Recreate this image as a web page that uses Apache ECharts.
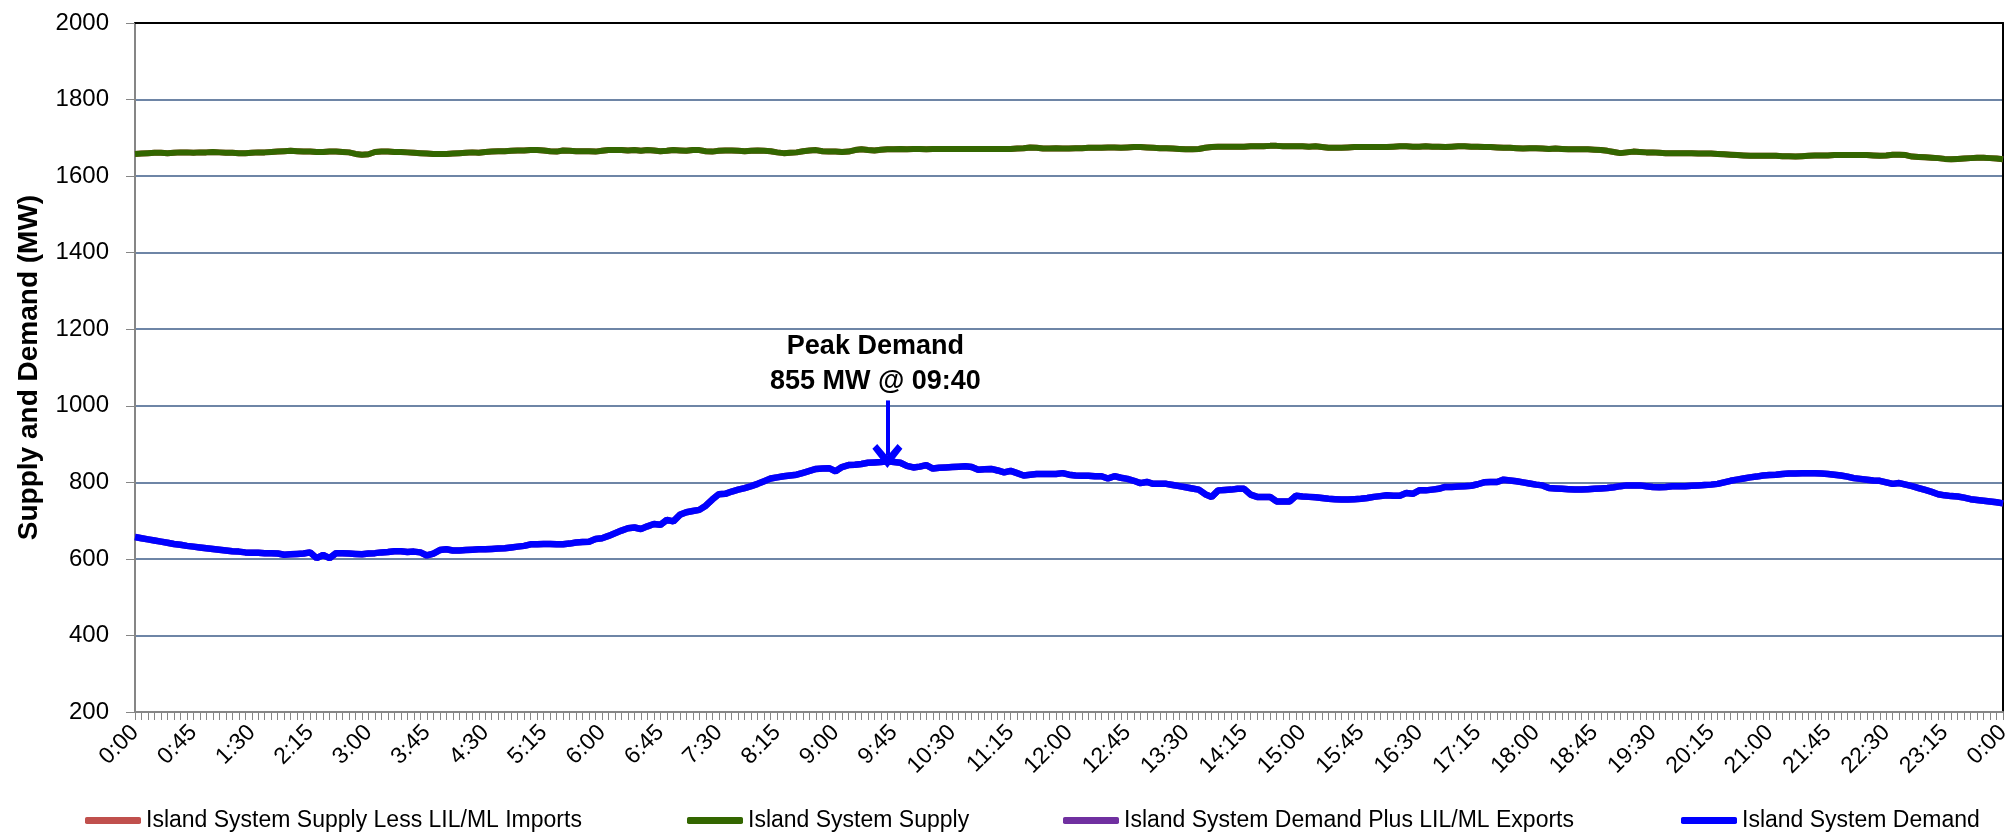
<!DOCTYPE html>
<html>
<head>
<meta charset="utf-8">
<script src="https://cdn.jsdelivr.net/npm/echarts@6/dist/echarts.min.js"></script>
<style>
html,body{margin:0;padding:0;background:#fff;}
#chart{width:2014px;height:839px;}
</style>
</head>
<body>
<div id="chart"></div>
<script>
// ---- Data (5-minute intervals, 0:00 to 0:00 next day) ----
const times = [];
for (let i = 0; i <= 288; i++) {
  const m = (i * 5) % 1440;
  times.push(Math.floor(m / 60) + ':' + String(m % 60).padStart(2, '0'));
}

const seriesNames = [
  'Island System Supply Less LIL/ML Imports',
  'Island System Supply',
  'Island System Demand Plus LIL/ML Exports',
  'Island System Demand'
];

const supply = [
  1658,1659,1660,1661,1661,1660,1661,1662,1662,1661,1662,1662,
  1663,1662,1661,1661,1660,1660,1661,1662,1662,1663,1664,1665,
  1666,1665,1664,1664,1663,1663,1664,1664,1663,1662,1658,1656,
  1657,1663,1664,1664,1663,1663,1662,1661,1660,1659,1658,1658,
  1658,1659,1660,1661,1662,1661,1663,1664,1665,1665,1666,1667,
  1667,1668,1668,1667,1665,1664,1667,1666,1665,1665,1665,1664,
  1666,1668,1668,1668,1667,1668,1666,1668,1667,1665,1666,1668,
  1667,1666,1668,1668,1665,1664,1666,1667,1667,1666,1665,1666,
  1667,1666,1665,1662,1660,1661,1662,1665,1667,1668,1665,1664,
  1664,1663,1664,1668,1670,1668,1667,1669,1670,1670,1671,1670,
  1671,1671,1670,1671,1671,1671,1671,1671,1671,1671,1671,1671,
  1671,1671,1671,1671,1672,1673,1675,1674,1672,1672,1673,1672,
  1672,1673,1673,1674,1674,1674,1675,1675,1674,1675,1676,1676,
  1675,1674,1673,1673,1672,1671,1670,1670,1671,1674,1676,1677,
  1677,1677,1677,1677,1678,1678,1678,1679,1679,1678,1678,1678,
  1678,1677,1678,1676,1674,1674,1674,1675,1676,1676,1676,1676,
  1676,1676,1677,1678,1678,1677,1677,1678,1677,1677,1676,1677,
  1678,1678,1677,1677,1676,1676,1675,1674,1674,1673,1672,1673,
  1673,1672,1671,1672,1671,1670,1670,1670,1670,1669,1668,1666,
  1663,1660,1662,1664,1663,1662,1662,1661,1660,1660,1660,1660,
  1660,1659,1659,1659,1658,1657,1656,1655,1654,1653,1653,1653,
  1653,1653,1652,1652,1651,1652,1653,1654,1654,1654,1655,1655,
  1655,1655,1655,1655,1654,1653,1654,1656,1656,1655,1651,1650,
  1649,1648,1647,1645,1644,1645,1646,1647,1648,1648,1647,1646,
  1644
];

const demand = [
  657,654,651,648,645,642,639,637,634,632,630,628,
  626,624,622,620,619,617,616,616,615,615,614,611,
  612,613,614,617,602,610,602,615,615,614,613,612,
  614,615,617,618,620,620,618,619,617,609,614,623,
  625,622,622,623,624,625,625,626,627,628,630,632,
  634,638,638,639,639,638,638,640,643,644,645,652,
  654,660,667,674,680,682,678,685,691,689,702,698,
  715,722,725,728,739,755,769,770,776,781,785,790,
  796,803,810,813,816,818,820,825,830,835,836,837,
  829,840,845,846,848,851,852,853,855,853,851,843,
  839,841,845,836,838,839,840,841,842,840,833,834,
  835,831,826,830,824,818,820,822,822,822,822,824,
  820,818,817,817,816,816,810,816,812,809,804,798,
  801,796,796,796,793,790,787,784,781,769,762,779,
  780,781,783,783,768,762,762,762,750,750,750,765,
  763,762,761,759,757,756,755,755,756,757,759,762,
  764,766,765,765,772,770,779,779,781,783,788,788,
  789,790,791,795,800,801,801,807,805,803,800,797,
  794,792,785,784,783,782,781,781,782,783,784,785,
  787,790,792,792,792,790,788,787,788,790,790,790,
  791,792,793,794,796,800,804,807,810,813,815,818,
  819,820,822,823,823,824,824,824,823,822,820,818,
  815,811,809,807,805,804,800,796,798,794,790,785,
  780,775,769,766,764,763,760,756,754,752,750,748,
  745
];

// Lines not separately visible (no LIL/ML flows): equal to supply / demand
const supplyLessImports = supply.slice();
const demandPlusExports = demand.slice();

const peakTime = '9:40';
const peakValue = 855;
const peakLabel = 'Peak Demand\n855 MW @ 09:40';

const yTicks = { min: 200, max: 2000, interval: 200 };

// ---- Chart ----
const FONT = '"Liberation Sans", Arial, sans-serif';
const colors = ['#C0504D', '#336600', '#7030A0', '#0000FF'];
const legendLefts = [80, 682, 1058, 1676];

const chart = echarts.init(document.getElementById('chart'), null, { renderer: 'canvas' });

const legends = seriesNames.map((n, k) => ({
  data: [n],
  left: legendLefts[k],
  top: 804,
  icon: 'roundRect',
  itemWidth: 56,
  itemHeight: 7,
  selectedMode: false,
  textStyle: { fontFamily: FONT, fontSize: 23, color: '#000' }
}));

const chevron = 'path://M10,0 L20,11 L16.8,13.8 L10,6.8 L3.2,13.8 L0,11 Z';

chart.setOption({
  animation: false,
  backgroundColor: '#fff',
  color: colors,
  textStyle: { fontFamily: FONT },
  grid: { left: 135, right: 11, top: 23, bottom: 127, containLabel: false },
  legend: legends,
  xAxis: [{
    type: 'category',
    data: times,
    boundaryGap: false,
    axisLine: { lineStyle: { color: '#868686', width: 2 } },
    axisTick: { show: true, interval: 0, length: 8, lineStyle: { color: '#868686', width: 1 } },
    axisLabel: {
      interval: function (idx) { return idx % 9 === 0; },
      rotate: 45,
      margin: 17,
      fontSize: 23,
      color: '#000',
      fontFamily: FONT
    },
    splitLine: { show: false }
  }, {
    type: 'category',
    data: times,
    boundaryGap: false,
    position: 'top',
    axisLine: { lineStyle: { color: '#000', width: 2 } },
    axisTick: { show: false },
    axisLabel: { show: false },
    splitLine: { show: false }
  }],
  yAxis: [{
    type: 'value',
    min: yTicks.min,
    max: yTicks.max,
    interval: yTicks.interval,
    name: 'Supply and Demand (MW)',
    nameLocation: 'middle',
    nameGap: 92,
    nameTextStyle: { fontFamily: FONT, fontSize: 28, fontWeight: 'bold', color: '#000' },
    axisLine: { show: true, lineStyle: { color: '#868686', width: 2 } },
    axisTick: { show: true, length: 9, lineStyle: { color: '#868686', width: 1 } },
    axisLabel: {
      margin: 26, fontSize: 24, color: '#000', fontFamily: FONT,
      formatter: function (v) { return String(v); }
    },
    splitLine: { show: true, lineStyle: { color: '#3E5C88', width: 1.5 } }
  }, {
    type: 'value',
    min: yTicks.min,
    max: yTicks.max,
    interval: yTicks.interval,
    position: 'right',
    axisLine: { show: true, lineStyle: { color: '#000', width: 2 } },
    axisTick: { show: false },
    axisLabel: { show: false },
    splitLine: { show: false }
  }],
  series: [
    {
      name: seriesNames[0], type: 'line', data: supplyLessImports,
      showSymbol: false, symbol: 'none', lineStyle: { width: 6, color: colors[0] },
      itemStyle: { color: colors[0] }, silent: true, z: 1
    },
    {
      name: seriesNames[1], type: 'line', data: supply,
      showSymbol: false, symbol: 'none', lineStyle: { width: 6, color: colors[1] },
      itemStyle: { color: colors[1] }, silent: true, z: 2
    },
    {
      name: seriesNames[2], type: 'line', data: demandPlusExports,
      showSymbol: false, symbol: 'none', lineStyle: { width: 6.5, color: colors[2] },
      itemStyle: { color: colors[2] }, silent: true, z: 3
    },
    {
      name: seriesNames[3], type: 'line', data: demand,
      showSymbol: false, symbol: 'none', lineStyle: { width: 6.5, color: colors[3] },
      itemStyle: { color: colors[3] }, silent: true, z: 4,
      markLine: {
        silent: true,
        symbol: ['none', chevron],
        symbolSize: [30, 24],
        label: { show: false },
        lineStyle: { color: '#0000FF', width: 4, type: 'solid' },
        data: [[{ coord: [peakTime, 1014] }, { coord: [peakTime, peakValue + 14] }]]
      },
      markPoint: {
        silent: true,
        symbol: 'circle',
        symbolSize: 0,
        data: [{ coord: [peakTime, 1110] }],
        label: {
          show: true,
          formatter: peakLabel,
          offset: [-12, 0],
          fontFamily: FONT,
          fontSize: 27,
          fontWeight: 'bold',
          color: '#000',
          lineHeight: 35,
          align: 'center'
        }
      }
    }
  ]
});
</script>
</body>
</html>
